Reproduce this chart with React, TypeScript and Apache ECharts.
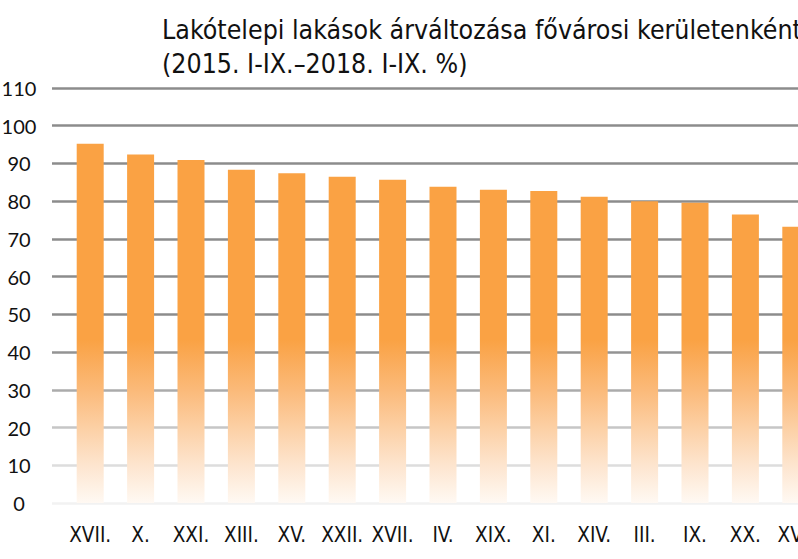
import React, { useEffect, useRef } from "react";
import * as echarts from "echarts";

const titleLine1 = "Lakótelepi lakások árváltozása fővárosi kerületenként";
const titleLine2 = "(2015. I-IX.–2018. I-IX. %)";

const districts = [
  "XVII.", "X.", "XXI.", "XIII.", "XV.", "XXII.", "XVII.", "IV.",
  "XIX.", "XI.", "XIV.", "III.", "IX.", "XX.", "XVI.",
];
const priceChange = [
  95.2, 92.4, 90.9, 88.3, 87.4, 86.5, 85.7, 83.8, 83.0, 82.7, 81.2, 80.0, 79.6, 76.5, 73.2,
];
const yMin = 0;
const yMax = 110;
const yStep = 10;

const gridLineColors = [
  "#f2f2f2", "#dddddd", "#c6c6c6", "#ababab", "#939393", "#8c8c8c",
  "#8c8c8c", "#8c8c8c", "#8c8c8c", "#8c8c8c", "#8c8c8c", "#8c8c8c",
];

const narrow = "'DejaVu Sans Condensed', 'Liberation Sans Narrow', Roboto, sans-serif";

export default function App() {
  const ref = useRef<HTMLDivElement>(null);
  useEffect(() => {
    if (!ref.current) return;
    const chart = echarts.init(ref.current, null, { renderer: "svg" });
    const fill = new echarts.graphic.LinearGradient(
      0, 340, 0, 503,
      [
        { offset: 0, color: "#FAA244" },
        { offset: 0.31, color: "#FBBA7A" },
        { offset: 0.54, color: "#FCD0A5" },
        { offset: 0.77, color: "#FDE5CF" },
        { offset: 1, color: "#FFF9F3" },
      ],
      true
    );
    chart.setOption({
      animation: false,
      backgroundColor: "#ffffff",
      title: {
        text: titleLine1 + "\n" + titleLine2,
        left: 157,
        top: 7,
        textStyle: {
          fontFamily: narrow,
          fontWeight: "normal",
          fontSize: 26.5,
          lineHeight: 34,
          color: "#111111",
        },
      },
      grid: [
        { left: 52, right: -20, top: 88, bottom: 56, outerBoundsMode: "none" },
        { left: 65, width: 756, top: 88, bottom: 56, outerBoundsMode: "none" },
      ],
      xAxis: [
        { type: "value", gridIndex: 0, show: false, min: 0, max: 1 },
        {
          type: "category",
          gridIndex: 1,
          data: districts,
          axisLine: { show: false },
          axisTick: { show: false },
          axisLabel: {
            interval: 0,
            margin: 21,
            fontFamily: narrow,
            fontSize: 20.5,
            color: "#111111",
          },
        },
      ],
      yAxis: [
        {
          type: "value",
          gridIndex: 0,
          min: yMin,
          max: yMax,
          interval: yStep,
          axisLine: { show: false },
          axisTick: { show: false },
          axisLabel: {
            align: "center",
            margin: 33,
            fontFamily: "Lato",
            fontSize: 20,
            color: "#111111",
          },
          splitLine: {
            show: true,
            lineStyle: { color: gridLineColors, width: 2.5 },
          },
        },
        {
          type: "value",
          gridIndex: 1,
          min: yMin,
          max: yMax,
          interval: yStep,
          show: false,
          splitLine: { show: false },
        },
      ],
      series: [
        {
          type: "bar",
          xAxisIndex: 1,
          yAxisIndex: 1,
          data: priceChange,
          barWidth: 27,
          itemStyle: { color: fill },
        },
      ],
    });
    return () => chart.dispose();
  }, []);
  return (
    <div
      ref={ref}
      style={{ position: "fixed", left: 0, top: 0, width: 798, height: 559 }}
    />
  );
}
